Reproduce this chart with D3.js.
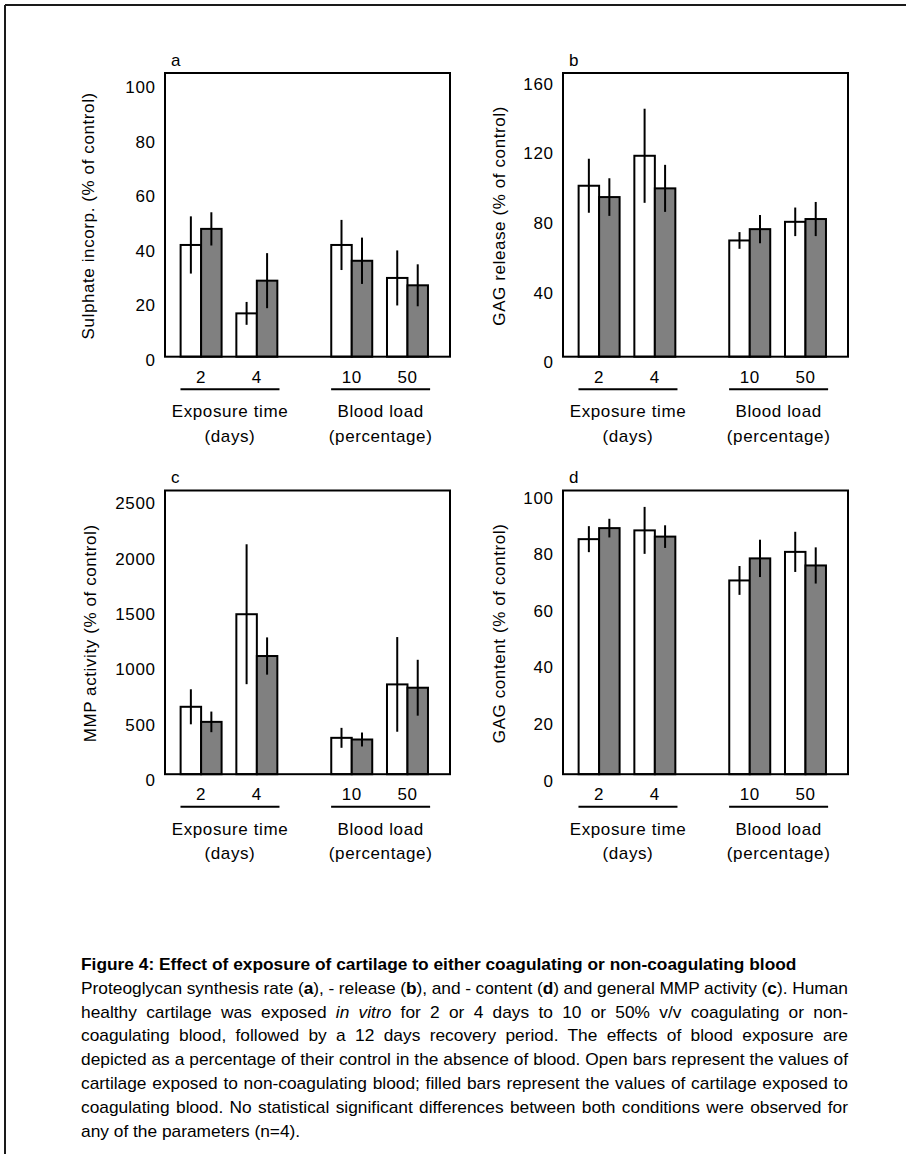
<!DOCTYPE html>
<html><head><meta charset="utf-8">
<script src="https://cdn.jsdelivr.net/npm/d3@7"></script>
<style>
html,body{margin:0;padding:0;background:#fff;}
svg text{font-family:"Liberation Sans",Arial,Helvetica,sans-serif;fill:#000;}
</style></head><body>
<svg id="fig" width="906" height="1154"></svg>
<script>
// Shared categories
const categories = ["2", "4", "10", "50"];
const sections = ["time", "load"];
const sectionOf = ["time", "time", "load", "load"];
const sectionTitles = [["Exposure time", "(days)"], ["Blood load", "(percentage)"]];
const seriesNames = ["non-coagulating", "coagulating"];

// a: sulphate incorporation
const sulphateOpen = [41.0, 15.9, 41.0, 28.9];
const sulphateOpenErr = [10.5, 4.2, 9.2, 10.1];
const sulphateFilled = [46.9, 27.9, 35.2, 26.2];
const sulphateFilledErr = [6.1, 10.1, 8.5, 7.7];
const sulphateTicks = [0, 20, 40, 60, 80, 100];

// b: GAG release
const releaseOpen = [98.1, 115.3, 66.7, 77.4];
const releaseOpenErr = [15.5, 27.0, 4.8, 8.2];
const releaseFilled = [91.6, 96.6, 73.2, 79.0];
const releaseFilledErr = [10.8, 13.5, 8.1, 9.8];
const releaseTicks = [0, 40, 80, 120, 160];

// c: MMP activity
const mmpOpen = [608, 1443, 328, 810];
const mmpOpenErr = [158, 631, 90, 427];
const mmpFilled = [472, 1066, 313, 780];
const mmpFilledErr = [93, 168, 63, 252];
const mmpTicks = [0, 500, 1000, 1500, 2000, 2500];

// d: GAG content
const contentOpen = [83.1, 86.2, 68.5, 78.6];
const contentOpenErr = [4.6, 8.3, 5.1, 7.1];
const contentFilled = [87.0, 84.0, 76.3, 73.8];
const contentFilledErr = [3.3, 4.0, 6.6, 6.4];
const contentTicks = [0, 20, 40, 60, 80, 100];

const panels = [
  {letter: "a", title: "Sulphate incorp. (% of control)", open: sulphateOpen, openErr: sulphateOpenErr,
   filled: sulphateFilled, filledErr: sulphateFilledErr, ticks: sulphateTicks, yMax: 104.1,
   left: 165, top: 73, titleX: -75, labelShift: 2.3},
  {letter: "b", title: "GAG release (% of control)", open: releaseOpen, openErr: releaseOpenErr,
   filled: releaseFilled, filledErr: releaseFilledErr, ticks: releaseTicks, yMax: 162.8,
   left: 563, top: 73, titleX: -62, labelShift: 5},
  {letter: "c", title: "MMP activity (% of control)", open: mmpOpen, openErr: mmpOpenErr,
   filled: mmpFilled, filledErr: mmpFilledErr, ticks: mmpTicks, yMax: 2559,
   left: 165, top: 490.5, titleX: -73.7, labelShift: 5.5},
  {letter: "d", title: "GAG content (% of control)", open: contentOpen, openErr: contentOpenErr,
   filled: contentFilled, filledErr: contentFilledErr, ticks: contentTicks, yMax: 100.3,
   left: 563, top: 490.5, titleX: -62, labelShift: 5.7}
];

const W = 285, H = 283.7;
const FS = 17, LS = 0.6;
const svg = d3.select("#fig");

// page frame (top and left rules)
svg.append("line").attr("x1", 5).attr("y1", 5).attr("x2", 906).attr("y2", 5)
  .attr("stroke", "#1a1a1a").attr("stroke-width", 2);
svg.append("line").attr("x1", 5).attr("y1", 5).attr("x2", 5).attr("y2", 1154)
  .attr("stroke", "#1a1a1a").attr("stroke-width", 2);

function txt(g) {
  return g.append("text").attr("font-size", FS).attr("letter-spacing", LS);
}

function drawPanel(p) {
  const g = svg.append("g").attr("transform", `translate(${p.left},${p.top})`);
  const y = d3.scaleLinear().domain([0, p.yMax]).range([H, 0]);
  const xs = d3.scaleBand().domain(sections).range([0, W])
    .paddingInner(0.26).paddingOuter(0.076).align(0.36);
  const xc = d3.scaleBand().domain([0, 1]).range([0, xs.bandwidth()]);
  const xb = d3.scaleBand().domain(seriesNames).range([0, xc.bandwidth()]).paddingOuter(0.36);
  const catLeft = i => xs(sectionOf[i]) + xc(i % 2);
  const catMid = i => catLeft(i) + xc.bandwidth() / 2;

  const rows = [];
  categories.forEach((c, i) => {
    rows.push({i, s: seriesNames[0], v: p.open[i], e: p.openErr[i], fill: "#ffffff"});
    rows.push({i, s: seriesNames[1], v: p.filled[i], e: p.filledErr[i], fill: "#808080"});
  });

  g.selectAll("rect.bar").data(rows).join("rect").attr("class", "bar")
    .attr("x", d => catLeft(d.i) + xb(d.s))
    .attr("width", xb.bandwidth())
    .attr("y", d => y(d.v))
    .attr("height", d => y(0) - y(d.v))
    .attr("fill", d => d.fill)
    .attr("stroke", "#000").attr("stroke-width", 2);

  g.selectAll("line.err").data(rows).join("line").attr("class", "err")
    .attr("x1", d => catLeft(d.i) + xb(d.s) + xb.bandwidth() / 2)
    .attr("x2", d => catLeft(d.i) + xb(d.s) + xb.bandwidth() / 2)
    .attr("y1", d => y(d.v - d.e))
    .attr("y2", d => y(d.v + d.e))
    .attr("stroke", "#000").attr("stroke-width", 2);

  g.append("rect").attr("x", 0).attr("y", 0).attr("width", W).attr("height", H)
    .attr("fill", "none").attr("stroke", "#000").attr("stroke-width", 2);

  // y axis labels (no tick marks)
  const ax = g.append("g").call(d3.axisLeft(y).tickValues(p.ticks).tickFormat(d3.format("d"))
    .tickSize(0).tickPadding(9.5));
  ax.select(".domain").remove();
  ax.attr("font-family", null).attr("font-size", null);
  ax.selectAll("text").attr("font-size", FS).attr("letter-spacing", LS)
    .attr("y", p.labelShift).attr("dy", "0.36em").attr("fill", "#000");

  // y title
  txt(g).attr("transform", `translate(${p.titleX + 4.4},${H / 2 + 1}) rotate(-90)`)
    .attr("text-anchor", "middle").text(p.title);

  // panel letter
  txt(g).attr("x", 6).attr("y", -7.5).text(p.letter);

  // category labels
  g.selectAll("text.cat").data(categories).join("text").attr("class", "cat")
    .attr("font-size", FS).attr("letter-spacing", LS)
    .attr("x", (d, i) => catMid(i)).attr("y", H + 26).attr("text-anchor", "middle").text(d => d);

  // section underline and titles
  sections.forEach((s, k) => {
    const cx = xs(s) + xs.bandwidth() / 2 + 1;
    g.append("line").attr("x1", cx - 49.5).attr("x2", cx + 49.5)
      .attr("y1", H + 32.5).attr("y2", H + 32.5)
      .attr("stroke", "#000").attr("stroke-width", 2);
    sectionTitles[k].forEach((t, j) => {
      txt(g).attr("x", cx).attr("y", H + 60.5 + j * 24.5).attr("text-anchor", "middle").text(t);
    });
  });
}

panels.forEach(drawPanel);

// caption
const captionTitle = "Figure 4: Effect of exposure of cartilage to either coagulating or non-coagulating blood";
const captionLines = [
  [["Proteoglycan synthesis rate (", "n"], ["a", "b"], ["), - release (", "n"], ["b", "b"], ["), and - content (", "n"], ["d", "b"], [") and general MMP activity (", "n"], ["c", "b"], ["). Human", "n"]],
  [["healthy cartilage was exposed ", "n"], ["in vitro", "i"], [" for 2 or 4 days to 10 or 50% v/v coagulating or non-", "n"]],
  [["coagulating blood, followed by a 12 days recovery period. The effects of blood exposure are", "n"]],
  [["depicted as a percentage of their control in the absence of blood. Open bars represent the values of", "n"]],
  [["cartilage exposed to non-coagulating blood; filled bars represent the values of cartilage exposed to", "n"]],
  [["coagulating blood. No statistical significant differences between both conditions were observed for", "n"]],
  [["any of the parameters (n=4).", "n"]]
];

const capX = 81, capRight = 848, capTitleRight = 797, capY = 970, capLead = 23.8, capFS = 16;

const titleEl = svg.append("text").attr("font-size", capFS).attr("font-weight", "bold").text(captionTitle);
const natural = titleEl.node().getComputedTextLength();
const sx = (capTitleRight - capX) / natural;
titleEl.attr("transform", `translate(${capX},${capY}) scale(${sx},1)`);

captionLines.forEach((segs, li) => {
  const t = svg.append("text").attr("font-size", capFS)
    .attr("transform", `translate(${capX},${capY + (li + 1) * capLead}) scale(${sx},1)`);
  segs.forEach(([s, st]) => {
    const ts = t.append("tspan").text(s);
    if (st === "b") ts.attr("font-weight", "bold");
    if (st === "i") ts.attr("font-style", "italic");
  });
  if (li < captionLines.length - 1) {
    const w = t.node().getComputedTextLength();
    const full = segs.map(d => d[0]).join("");
    const spaces = (full.match(/ /g) || []).length;
    const target = (capRight - capX) / sx;
    t.attr("word-spacing", (target - w) / spaces);
  }
});
</script>
</body></html>
